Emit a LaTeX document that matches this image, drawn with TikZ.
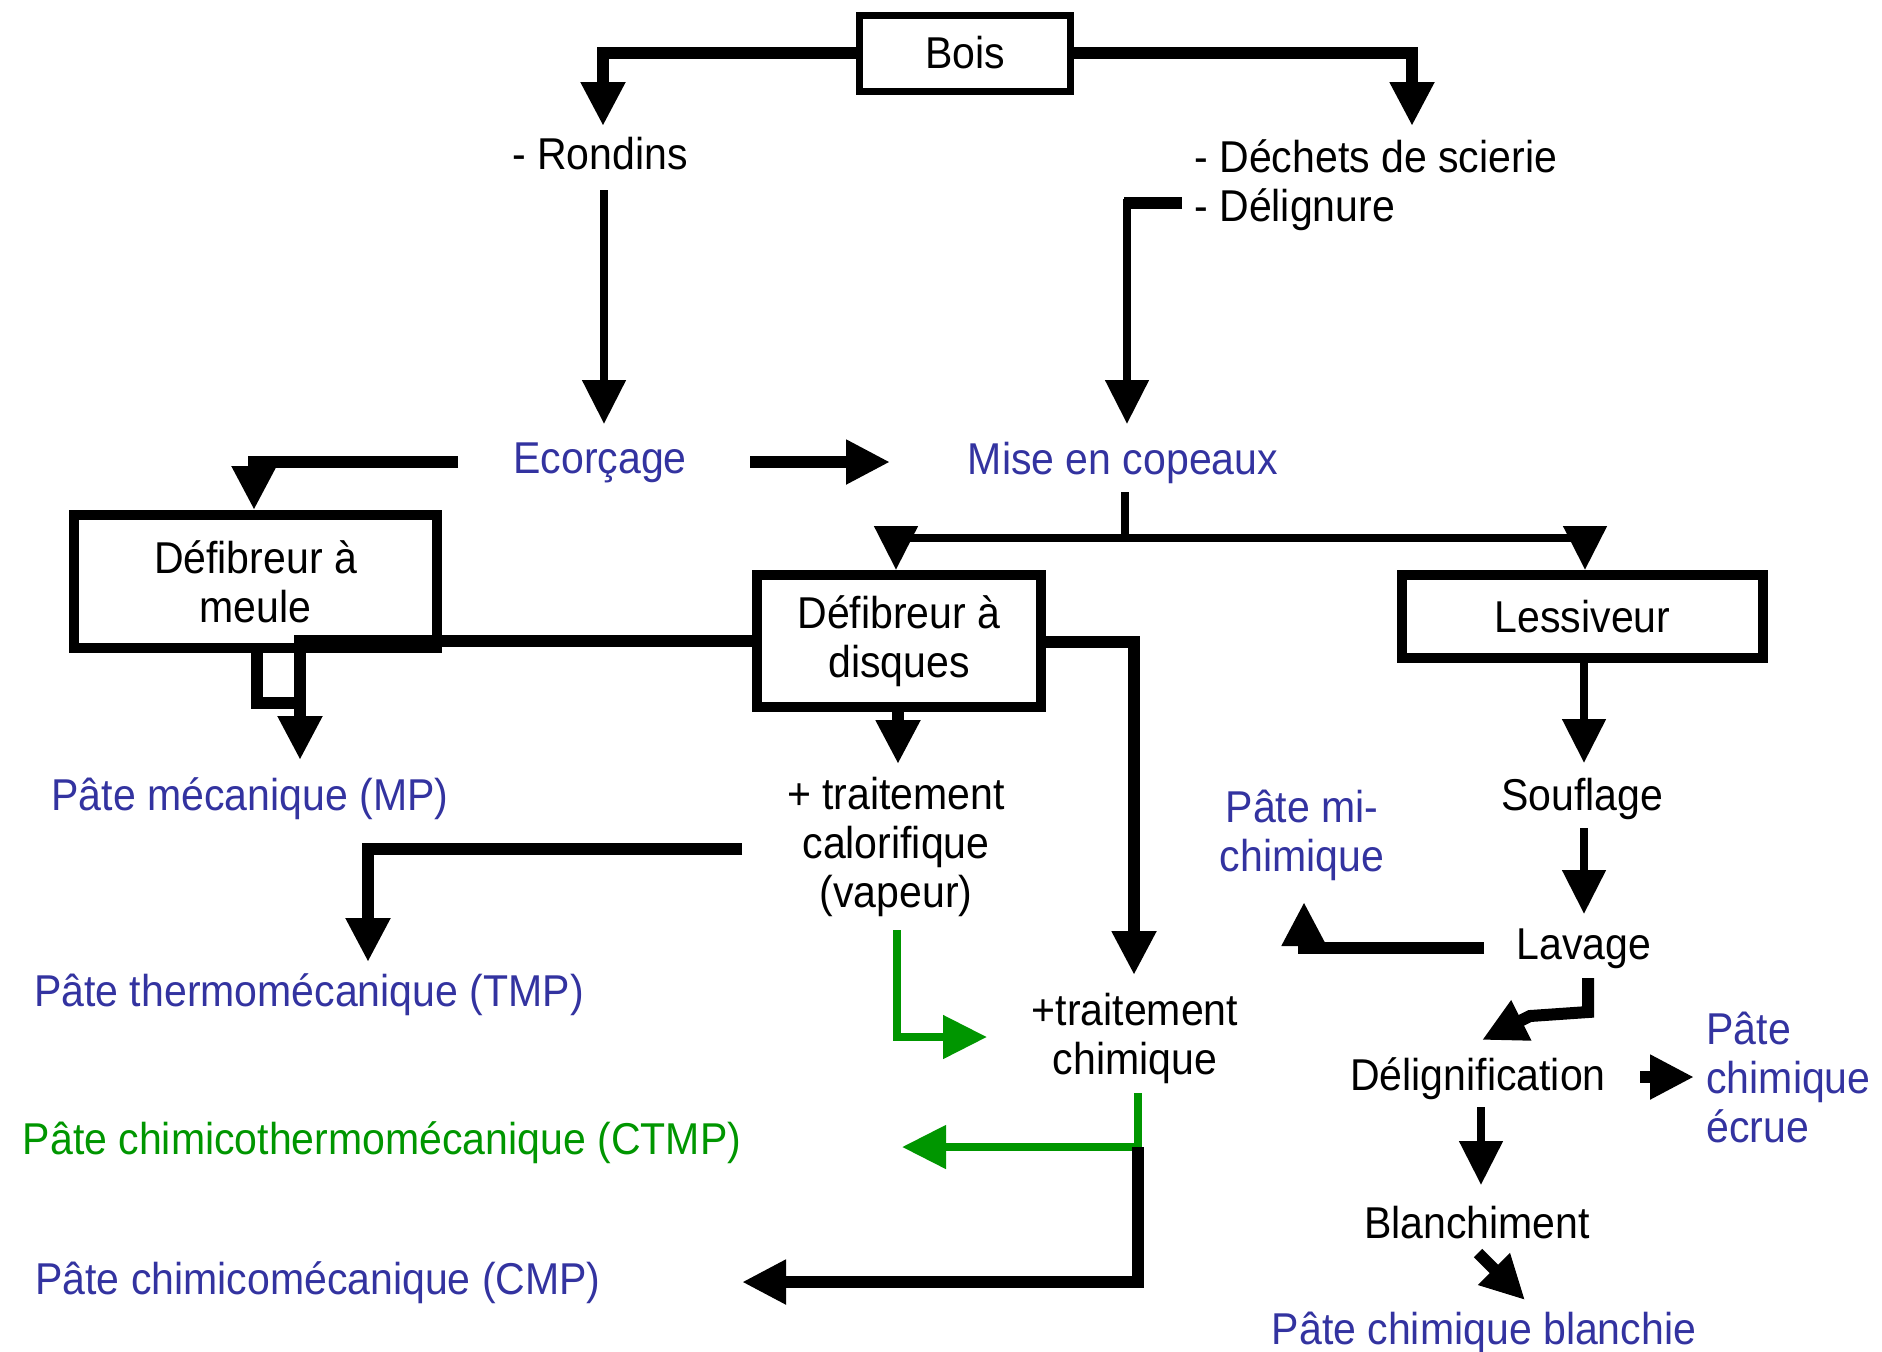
\documentclass[tikz,border=0pt]{standalone}
\usepackage{fontspec}
\setmainfont{Liberation Sans}[FakeStretch=0.92]
\usetikzlibrary{arrows.meta}
\definecolor{pblue}{RGB}{51,51,160}
\definecolor{pgreen}{RGB}{0,150,0}
\begin{document}
\begin{tikzpicture}[x=0.5pt,y=-0.5pt,
  fnt/.style={font=\fontsize{22.3}{24.5}\selectfont, align=center, inner sep=0pt},
  txt/.style={fnt, yshift=-2.5pt},
  bl/.style={txt, text=pblue},
  gr/.style={txt, text=pgreen},
  bigbox/.style={fnt, draw, line width=5pt},
  thk/.style={line width=6pt, line cap=butt},
  thn/.style={line width=4pt, line cap=butt},
  tip/.style={-{Triangle[width=21pt,length=22pt]}},
  grn/.style={draw=pgreen}
]
\useasboundingbox (0,0) rectangle (1882,1351);

% boxes
\node[fnt, draw, line width=3.5pt, minimum width=105.5pt, minimum height=38pt] (bois) at (965,53) {Bois};
\node[bigbox, minimum width=181.5pt, minimum height=66.5pt] (meule) at (255.5,581.5) {Défibreur à\\meule};
\node[bigbox, minimum width=142pt, minimum height=66pt] (disques) at (899,641) {Défibreur à\\disques};
\node[bigbox, minimum width=180.5pt, minimum height=41.5pt] (lessiveur) at (1582.5,616.5) {Lessiveur};

% texts
\node[txt] (rondins) at (600,149) {- Rondins};
\node[txt, align=left, anchor=west] (dechets) at (1194,180) {- Déchets de scierie\\- Délignure};
\node[bl] (ecorcage) at (600,458) {Ecorçage};
\node[bl] (mise) at (1123,458) {Mise en copeaux};
\node[bl] (mp) at (250,794) {Pâte mécanique (MP)};
\node[txt] (calo) at (896,842) {+ traitement\\calorifique\\(vapeur)};
\node[bl] (tmp) at (309,990) {Pâte thermomécanique (TMP)};
\node[txt] (chim) at (1135,1033) {+traitement\\chimique};
\node[gr] (ctmp) at (382,1138) {Pâte chimicothermomécanique (CTMP)};
\node[bl] (cmp) at (318,1278) {Pâte chimicomécanique (CMP)};
\node[txt] (souf) at (1582,794) {Souflage};
\node[txt] (lav) at (1584,944) {Lavage};
\node[bl] (mich) at (1302,830) {Pâte mi-\\chimique};
\node[txt] (delig) at (1478,1074) {Délignification};
\node[bl, align=left, anchor=west] (ecrue) at (1706,1072) {Pâte\\chimique\\écrue};
\node[txt] (blanch) at (1477,1218) {Blanchiment};
\node[bl] (blanchie) at (1484,1328) {Pâte chimique blanchie};

% free ends
\coordinate (rondinsIn) at (603,126);
\coordinate (dechetsIn) at (1412,126);
\coordinate (rondinsOut) at (604,190);
\coordinate (ecorcageIn) at (604,424);
\coordinate (delignOut) at (1182,203);
\coordinate (delignKnee) at (1127,203);
\coordinate (miseIn) at (1127,424);
\coordinate (ecorcageR) at (750,462);
\coordinate (miseL) at (890,462);
\coordinate (ecorcageL) at (458,462);
\coordinate (miseOut) at (1125,492);
\coordinate (branch) at (1125,538);
\coordinate (mpIn) at (300,760);
\coordinate (meuleLoop) at (300,703);
\coordinate (chimIn) at (1134,975);
\coordinate (caloIn) at (898,764);
\coordinate (caloL) at (742,849);
\coordinate (tmpIn) at (368,962);
\coordinate (caloOut) at (897,930);
\coordinate (chimL) at (987,1037);
\coordinate (chimOut) at (1138,1093);
\coordinate (chimSplit) at (1138,1147);
\coordinate (ctmpIn) at (902,1147);
\coordinate (cmpIn) at (742,1282);
\coordinate (soufIn) at (1584,763);
\coordinate (soufOut) at (1584,828);
\coordinate (lavIn) at (1584,914);
\coordinate (lavL) at (1484,948);
\coordinate (michIn) at (1304,902);
\coordinate (lavOut) at (1588,978);
\coordinate (delignIn) at (1482,1040);
\coordinate (delignR) at (1640,1077);
\coordinate (ecrueIn) at (1694,1077);
\coordinate (delignOutB) at (1481,1107);
\coordinate (blanchIn) at (1481,1185);
\coordinate (blanchOut) at (1478,1253);
\coordinate (blanchieIn) at (1525,1300);

% connectors
\draw[thk,tip] (bois.west) -| (rondinsIn);
\draw[thk,tip] (bois.east) -| (dechetsIn);
\draw[thn,tip] (rondinsOut) -- (ecorcageIn);
\draw[thk] (delignOut) -- ([xshift=-1.75pt]delignKnee);
\draw[thn,tip] ([yshift=2pt]delignKnee) -- (miseIn);
\draw[thk,tip] (ecorcageR) -- (miseL);
\draw[thk,tip] (ecorcageL) -| (meule.north -| 254,0);
\draw[thn] (miseOut) -- (branch);
\draw[thn,tip] (branch) -| (disques.north -| 896,0);
\draw[thn,tip] (branch) -| (lessiveur.north -| 1585,0);
\draw[thk,tip] (disques.west |- 0,641) -| (mpIn);
\draw[thk] (meule.south -| 257,0) |- (meuleLoop);
\draw[thk,tip] (disques.east |- 0,642) -| (chimIn);
\draw[thk,tip] (disques.south -| 898,0) -- (caloIn);
\draw[thk,tip] (caloL) -| (tmpIn);
\draw[thn,grn,tip] (caloOut) |- (chimL);
\draw[thn,grn] (chimOut) -- (chimSplit);
\draw[thn,grn,tip] (chimSplit) -- (ctmpIn);
\draw[thk,tip] (chimSplit) |- (cmpIn);
\draw[thn,tip] (lessiveur.south -| 1584,0) -- (soufIn);
\draw[thn,tip] (soufOut) -- (lavIn);
\draw[thk,tip] (lavL) -| (michIn);
\draw[thk,tip] (lavOut) -- (1588,1012) -- (1530,1016) -- (delignIn);
\draw[thk,tip] (delignR) -- (ecrueIn);
\draw[thn,tip] (delignOutB) -- (blanchIn);
\draw[thk,tip] (blanchOut) -- (blanchieIn);
\end{tikzpicture}
\end{document}
